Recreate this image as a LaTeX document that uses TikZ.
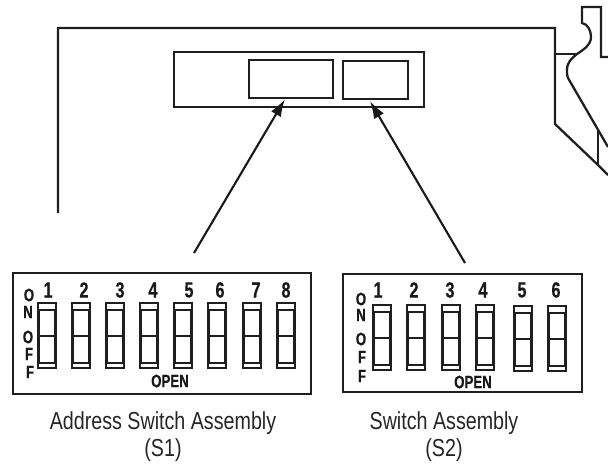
\documentclass[tikz,border=0pt]{standalone}
\usepackage{fontspec}
\setmainfont{Liberation Sans}
\newfontfamily\capfont[FakeStretch=0.8]{Liberation Sans}
\newfontfamily\keyfont[FakeStretch=0.74,FakeBold=0.6]{Liberation Sans Bold}
\usetikzlibrary{arrows.meta}
\tikzset{
	outline/.style={line width=1.3pt, color=black!88},
	swline/.style={line width=1.2pt, color=black!88},
	pointer/.style={line width=1.2pt, color=black!90, -{Latex[length=10pt,width=6.5pt]}},
	keylabel/.style={font=\keyfont\fontsize{10.2}{11}\selectfont, inner sep=0pt, color=black!90},
	numlabel/.style={font=\keyfont\fontsize{12.5}{13}\selectfont, inner sep=0pt, color=black!90},
	caption/.style={font=\capfont\fontsize{14}{16}\selectfont, inner sep=0pt, color=black!85}
}
\def\dipswitch(#1,#2){
	\draw[swline] (#1, #2) rectangle (#1+18, #2+65);
	\draw[swline] (#1+1, #2+7) rectangle (#1+17, #2+60);
	\draw[swline] (#1+1, #2+33) -- (#1+17, #2+33);
}

\begin{document}
\begin{tikzpicture}[x=0.02cm, y=-0.02cm]
			%%%%% START %%%%%
			
			\useasboundingbox (0, 0) rectangle (608, 464);
			
			% housing
			\draw[outline] (58, 213) -- (58, 28) -- (555, 28) -- (555, 124) -- (598, 165) -- (608, 175);
			\draw[outline] (555, 54) -- (577, 54);
			\draw[outline] (598, 131) -- (598, 165);
			\draw[outline] (608, 57) -- (601, 57) -- (601, 7) -- (582, 7) -- (582, 23)
				.. controls (588, 24) and (591, 31) .. (591, 37)
				.. controls (591, 45) and (583, 50) .. (577, 54)
				.. controls (572, 58) and (567, 62) .. (567, 70)
				.. controls (567, 74) and (567, 76) .. (568, 78) -- (608, 147);
			
			% switch window
			\draw[outline] (174, 52) rectangle (424, 107);
			\draw[outline] (249, 60) rectangle (333, 98);
			\draw[outline] (343, 61) rectangle (408, 99);
			
			\coordinate (tailS1) at (194, 253);
			\coordinate (tipS1) at (285, 99);
			\coordinate (tailS2) at (465, 263);
			\coordinate (tipS2) at (370, 101);
			\draw[pointer] (tailS1) -- (tipS1);
			\draw[pointer] (tailS2) -- (tipS2);
			
			%%%%% S1 %%%%%
			
			\draw[outline] (13, 273) rectangle (311, 394);
			\foreach \x in {38, 72, 106, 140, 174, 208, 243, 277} {
				\dipswitch(\x,303)
			}
			\foreach \x/\n in {48/1, 84/2, 120/3, 153/4, 189/5, 220/6, 256/7, 286/8} {
				\node[numlabel] (numA\n) at (\x, 290) {\n};
			}
			\node[keylabel] (onA1) at (29, 295) {O};
			\node[keylabel] (onA2) at (28, 312) {N};
			\node[keylabel] (offA1) at (28, 337) {O};
			\node[keylabel] (offA2) at (29, 354) {F};
			\node[keylabel] (offA3) at (30, 372) {F};
			\node[keylabel] (openA) at (170, 381) {OPEN};
			\node[caption] (capA1) at (163, 423) {Address Switch Assembly};
			\node[caption] (capA2) at (163, 450) {(S1)};
			
			%%%%% S2 %%%%%
			
			\draw[outline] (343, 274) rectangle (582, 392);
			\foreach \x in {373, 407, 442, 476} {
				\dipswitch(\x,305)
			}
			\foreach \x in {514, 548} {
				\dipswitch(\x,306)
			}
			\foreach \x/\n in {378/1, 414/2, 450/3, 483/4, 522/5, 556/6} {
				\node[numlabel] (numB\n) at (\x, 290) {\n};
			}
			\node[keylabel] (onB1) at (361, 299) {O};
			\node[keylabel] (onB2) at (361, 315) {N};
			\node[keylabel] (offB1) at (361, 339) {O};
			\node[keylabel] (offB2) at (362, 357) {F};
			\node[keylabel] (offB3) at (362, 376) {F};
			\node[keylabel] (openB) at (473, 382) {OPEN};
			\node[caption] (capB1) at (444, 423) {Switch Assembly};
			\node[caption] (capB2) at (444, 450) {(S2)};
			
			%%%%% END %%%%%
		\end{tikzpicture}
\end{document}
